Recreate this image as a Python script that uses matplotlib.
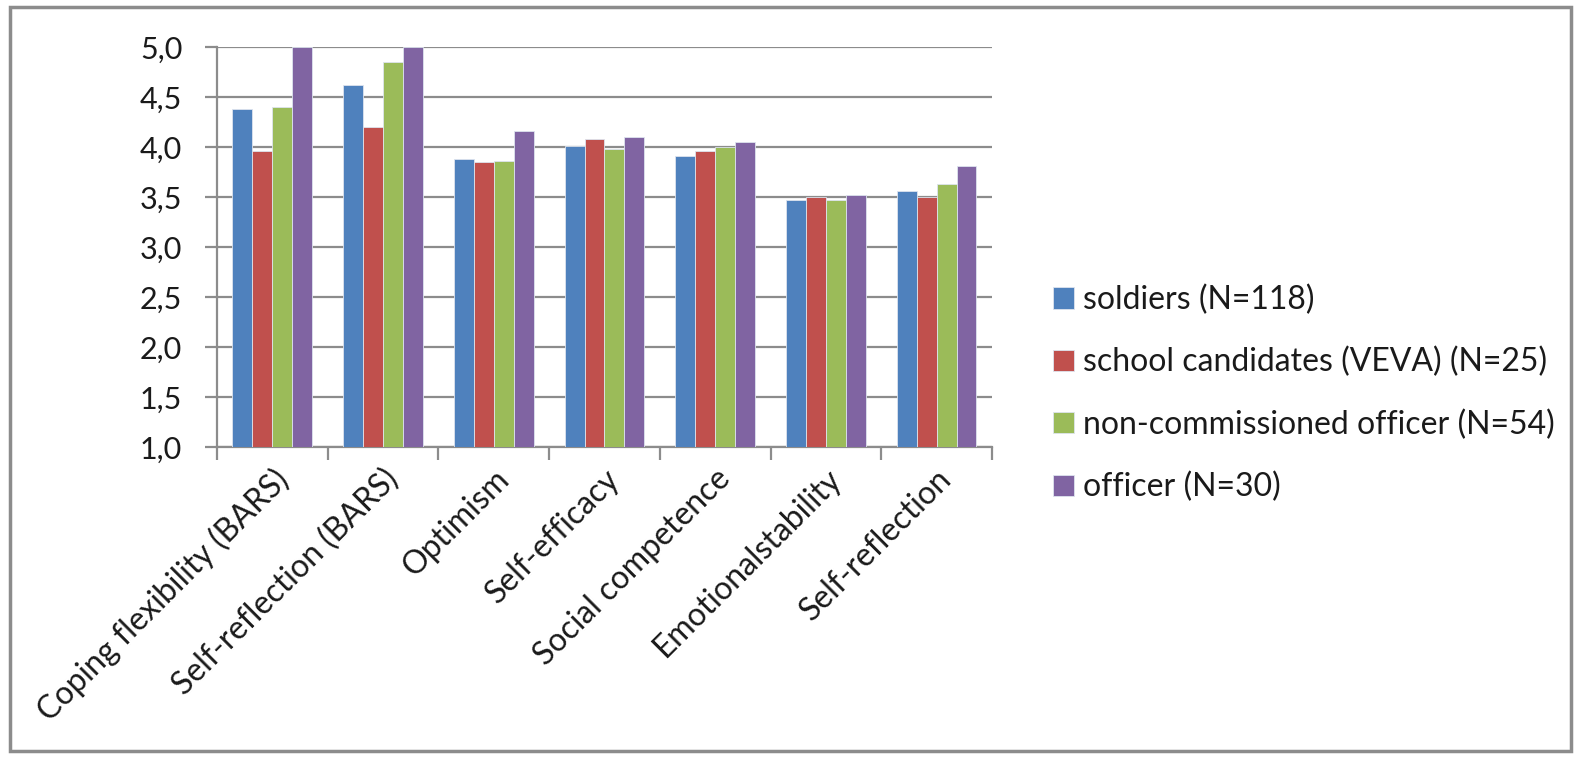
import matplotlib.pyplot as plt
import numpy as np
from matplotlib.patches import Rectangle
from matplotlib.ticker import FuncFormatter, MultipleLocator

plt.rcParams['font.family'] = ['Lato', 'DejaVu Sans']

categories = ['Coping flexibility (BARS)', 'Self-reflection (BARS)', 'Optimism',
              'Self-efficacy', 'Social competence', 'Emotionalstability', 'Self-reflection']
series_names = ['soldiers (N=118)', 'school candidates (VEVA) (N=25)',
                'non-commissioned officer (N=54)', 'officer (N=30)']
soldiers = [4.38, 4.62, 3.88, 4.01, 3.91, 3.47, 3.56]
candidates = [3.96, 4.20, 3.85, 4.08, 3.96, 3.50, 3.50]
nco = [4.40, 4.85, 3.86, 3.98, 4.00, 3.47, 3.63]
officer = [5.00, 5.00, 4.16, 4.10, 4.05, 3.52, 3.81]
colors = ['#4F81BD', '#C0504D', '#9BBB59', '#8064A2']

fig = plt.figure(figsize=(15.77, 7.58), dpi=100)
ax = fig.add_axes([0.1376, 0.4103, 0.4914, 0.5273])

fig.patches.append(Rectangle((10 / 1577, 7 / 758), 1561 / 1577, 744 / 758,
                             transform=fig.transFigure, fill=False,
                             edgecolor='#8c8c8c', linewidth=2.5))

x = np.arange(len(categories))
w = 0.18
for i, vals in enumerate([soldiers, candidates, nco, officer]):
    ax.bar(x + (i - 1.5) * w, vals, w, bottom=0, color=colors[i],
           edgecolor='#dde4ee', linewidth=0.6, label=series_names[i], zorder=3)

ax.set_ylim(1.0, 5.0)
ax.set_xlim(-0.5, len(categories) - 0.5)
ax.yaxis.set_major_locator(MultipleLocator(0.5))
ax.yaxis.set_major_formatter(FuncFormatter(lambda v, p: f'{v:.1f}'.replace('.', ',')))
ax.grid(axis='y', color='#8c8c8c', linewidth=1.6, zorder=0)

ax.set_xticks(np.arange(len(categories) + 1) - 0.5)
ax.set_xticklabels([])
ax.set_xticks(x, minor=True)
ax.set_xticklabels(categories, minor=True, rotation=45, ha='right',
                   rotation_mode='anchor', fontsize=23, color='#1a1a1a')
ax.tick_params(axis='x', which='minor', length=0, pad=12)
ax.tick_params(axis='x', which='major', length=9, color='#8c8c8c', width=1.6)
ax.tick_params(axis='y', length=9, color='#8c8c8c', width=1.6, labelsize=22,
               pad=16, labelcolor='#1a1a1a')

for s in ['top', 'right']:
    ax.spines[s].set_visible(False)
for s in ['left', 'bottom']:
    ax.spines[s].set_color('#8c8c8c')
    ax.spines[s].set_linewidth(1.6)

leg = fig.legend(loc='upper left', bbox_to_anchor=(1024 / 1577, 1 - 256 / 758),
                 frameon=False, fontsize=23, handlelength=0.65, handleheight=0.65,
                 handletextpad=0.3, labelspacing=1.0)
for t in leg.get_texts():
    t.set_color('#1a1a1a')

fig.savefig('out.png', dpi=100)
